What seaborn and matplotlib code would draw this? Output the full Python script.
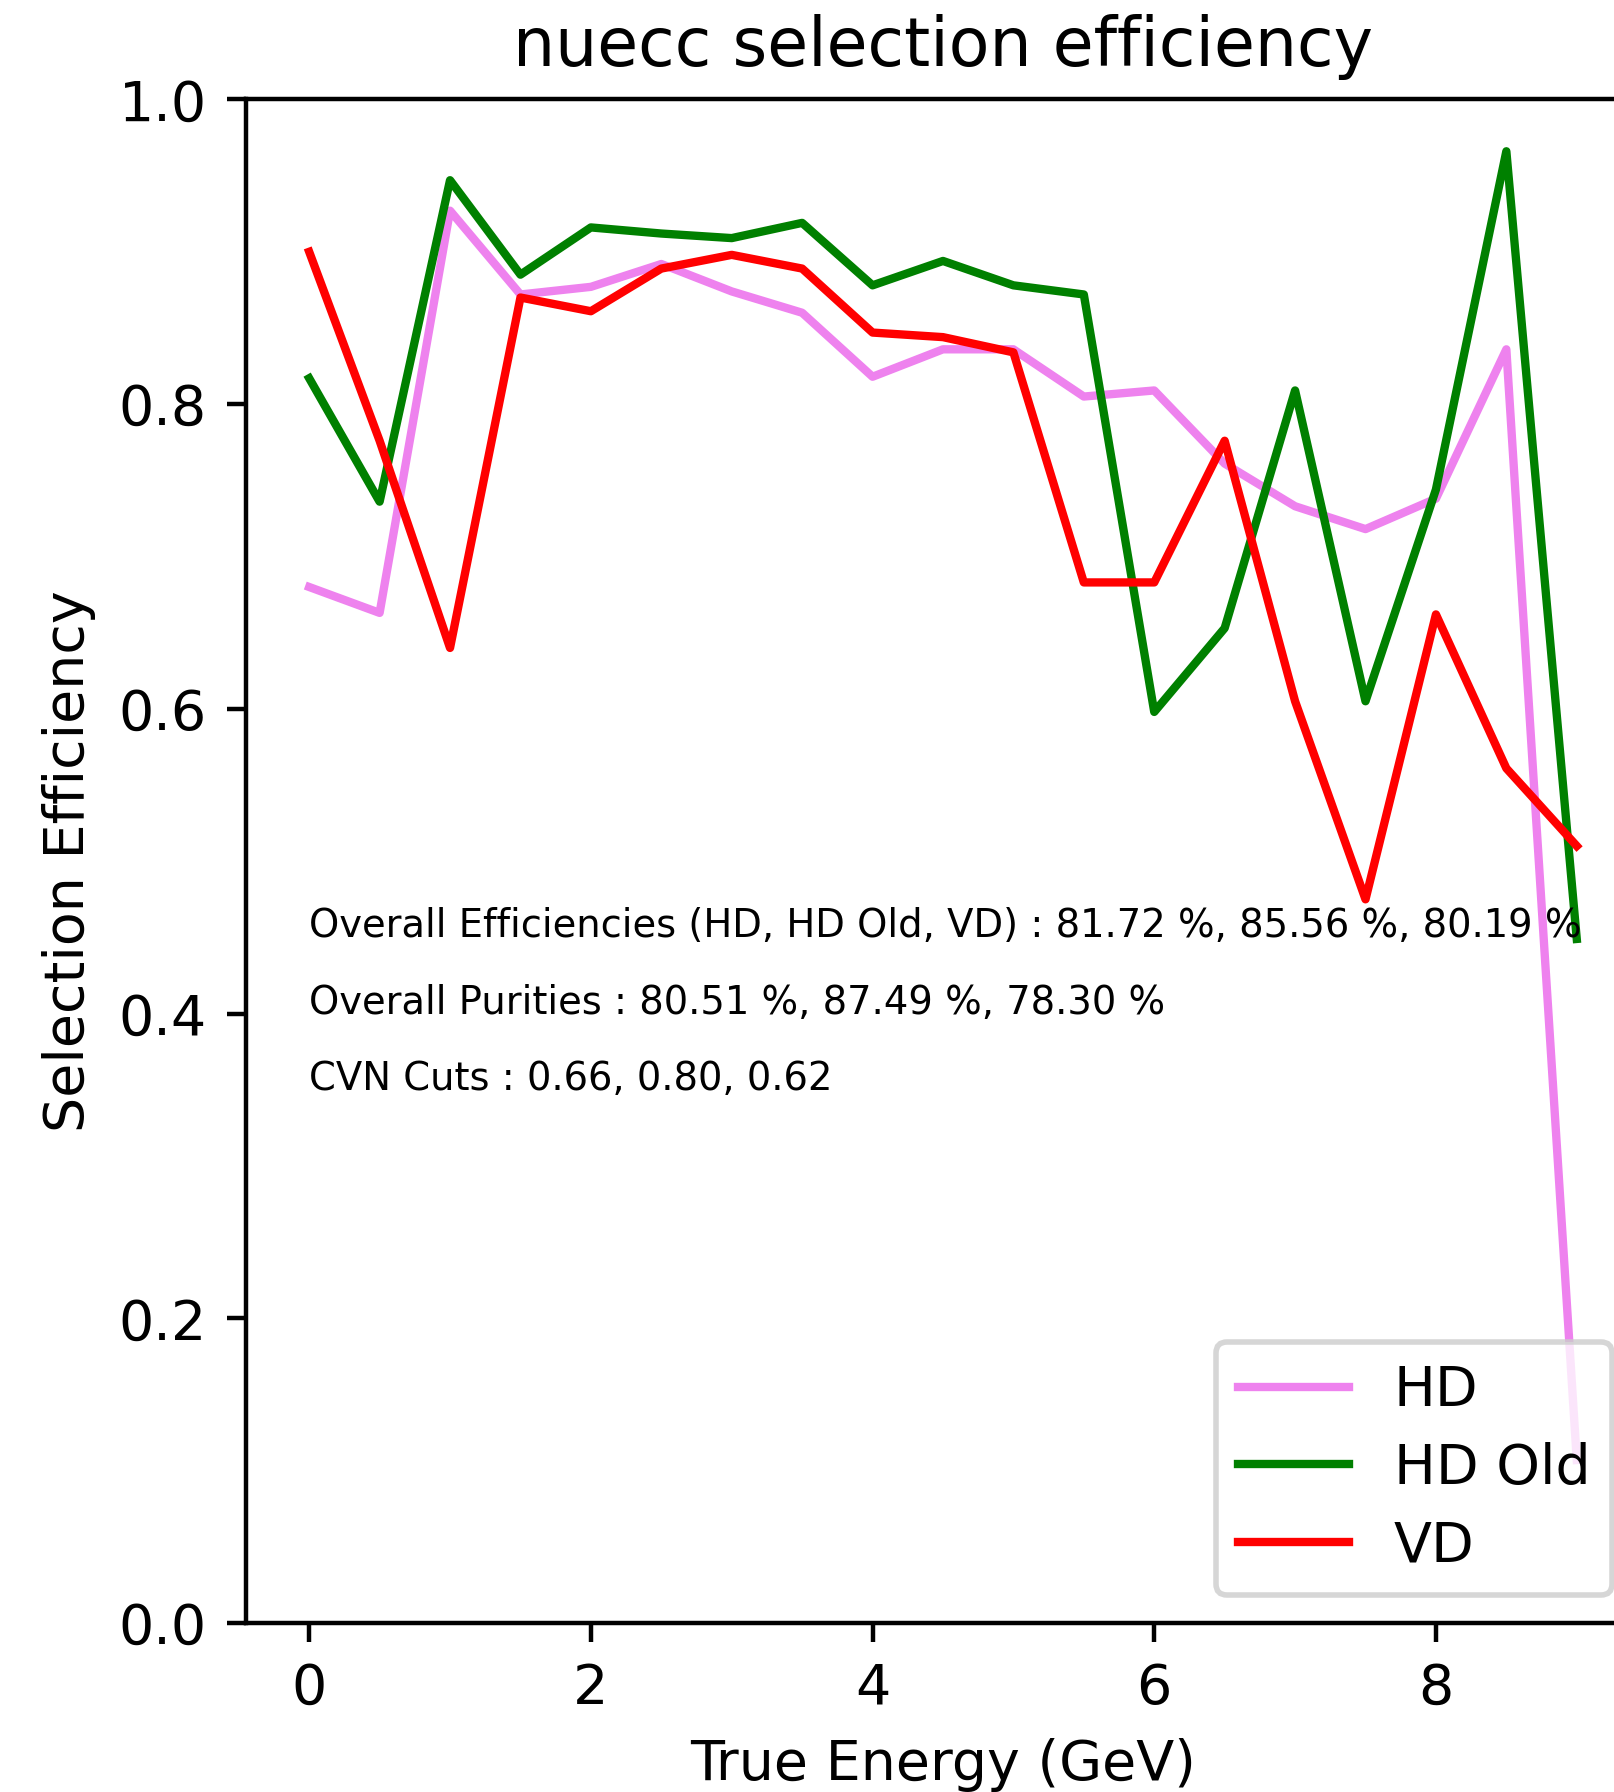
import matplotlib
matplotlib.use("Agg")
import matplotlib.pyplot as plt
import seaborn as sns
import pandas as pd

energy = [0.0, 0.5, 1.0, 1.5, 2.0, 2.5, 3.0, 3.5, 4.0, 4.5, 5.0, 5.5, 6.0, 6.5, 7.0, 7.5, 8.0, 8.5, 9.0]
hd = [0.680, 0.663, 0.927, 0.872, 0.877, 0.892, 0.874, 0.860, 0.818, 0.836, 0.836, 0.805, 0.809, 0.761, 0.733, 0.718, 0.738, 0.836, 0.107]
hd_old = [0.817, 0.736, 0.947, 0.885, 0.916, 0.912, 0.909, 0.919, 0.878, 0.894, 0.878, 0.872, 0.598, 0.653, 0.809, 0.605, 0.744, 0.966, 0.449]
vd = [0.900, 0.776, 0.640, 0.870, 0.861, 0.889, 0.898, 0.889, 0.847, 0.844, 0.834, 0.683, 0.683, 0.776, 0.605, 0.475, 0.662, 0.561, 0.510]

series_names = ["HD", "HD Old", "VD"]
series_colors = ["violet", "green", "red"]
series_values = [hd, hd_old, vd]

info_lines = [
    "Overall Efficiencies (HD, HD Old, VD) : 81.72 %, 85.56 %, 80.19 %",
    "Overall Purities : 80.51 %, 87.49 %, 78.30 %",
    "CVN Cuts : 0.66, 0.80, 0.62",
]
info_y = [0.45, 0.40, 0.35]

plt.rcParams['font.family'] = ['DejaVu Sans']

fig = plt.figure(figsize=(1614 / 400, 1792 / 400), dpi=400)
ax = fig.add_axes([0.1523, 0.0943, 0.8639, 0.8502])

for name, color, vals in zip(series_names, series_colors, series_values):
    df = pd.DataFrame({"energy": energy, "eff": vals})
    sns.lineplot(data=df, x="energy", y="eff", color=color, label=name, ax=ax, linewidth=1.5)

ax.set_xlim(-0.45, 9.45)
ax.set_ylim(0.0, 1.0)
ax.set_xticks([0, 2, 4, 6, 8])
ax.set_yticks([0.0, 0.2, 0.4, 0.6, 0.8, 1.0])
ax.set_xlabel("True Energy (GeV)", fontsize=10)
ax.set_ylabel("Selection Efficiency", fontsize=10)
ax.set_title("nuecc selection efficiency", fontsize=12)
ax.tick_params(labelsize=10)

for txt, yy in zip(info_lines, info_y):
    ax.text(0, yy, txt, fontsize=6.94)

ax.legend(loc="lower right", fontsize=10, labelspacing=0.42)

fig.savefig("out.png", dpi=400)
